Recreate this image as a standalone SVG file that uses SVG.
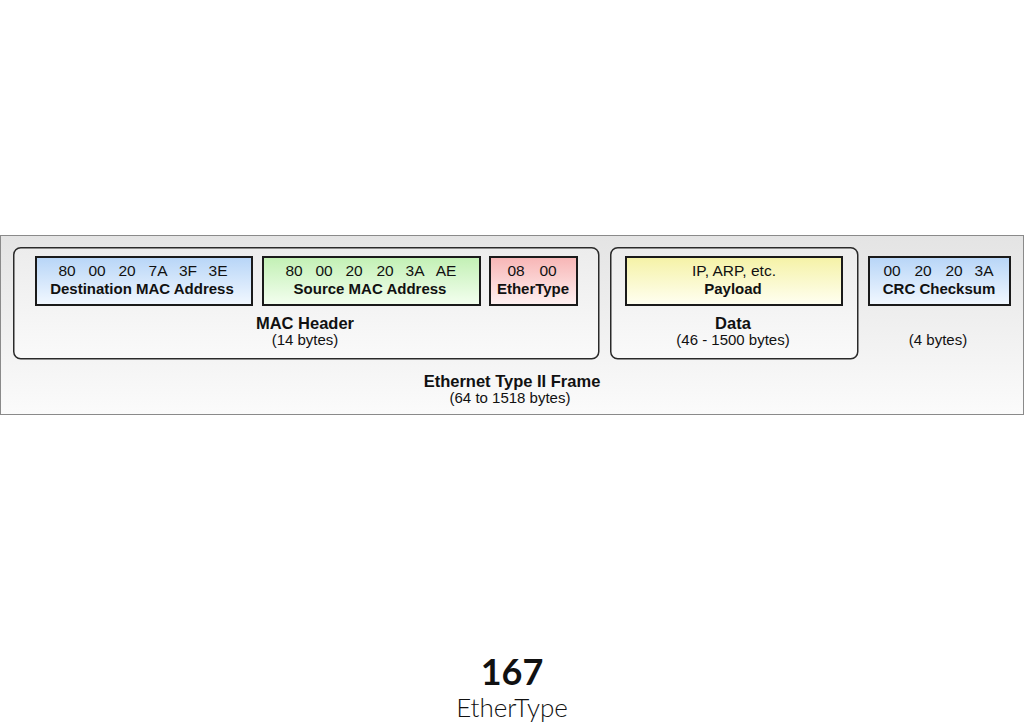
<svg xmlns="http://www.w3.org/2000/svg" width="1024" height="723" viewBox="0 0 1024 723">
<defs>
<linearGradient id="gFrame" x1="0" y1="0" x2="0" y2="1"><stop offset="0" stop-color="#e4e4e4"/><stop offset="1" stop-color="#fbfbfb"/></linearGradient>
<linearGradient id="gGroup" x1="0" y1="0" x2="0" y2="1"><stop offset="0" stop-color="#ececec"/><stop offset="1" stop-color="#fafafa"/></linearGradient>
<linearGradient id="gBlue" x1="0" y1="0" x2="0" y2="1"><stop offset="0" stop-color="#b7d5f7"/><stop offset="1" stop-color="#f2f8ff"/></linearGradient>
<linearGradient id="gGreen" x1="0" y1="0" x2="0" y2="1"><stop offset="0" stop-color="#c2f0b4"/><stop offset="1" stop-color="#f4fff0"/></linearGradient>
<linearGradient id="gRed" x1="0" y1="0" x2="0" y2="1"><stop offset="0" stop-color="#f7b5b5"/><stop offset="1" stop-color="#fff2f2"/></linearGradient>
<linearGradient id="gYellow" x1="0" y1="0" x2="0" y2="1"><stop offset="0" stop-color="#f5f2a6"/><stop offset="1" stop-color="#fffff2"/></linearGradient>
</defs>
<style>
text{font-family:"Liberation Sans",Arial,sans-serif;fill:#111;text-anchor:middle}
.hex{font-size:15.5px}
.lbl{font-size:15px;font-weight:bold}
.gt{font-size:16.5px;font-weight:bold}
.sub{font-size:15px}
.field{stroke:#1a1a1a;stroke-width:2}
.grp{fill:url(#gGroup);stroke:#2a2a2a;stroke-width:1.5}
.cap{font-family:Lato,"Noto Sans",sans-serif;fill:#111}
</style>
<rect width="1024" height="723" fill="#ffffff"/>
<g id="frame">
<rect x="0.5" y="235.5" width="1023" height="179" fill="url(#gFrame)" stroke="#8a8a8a" stroke-width="1"/>
<text class="gt" x="512" y="387">Ethernet Type II Frame</text>
<text class="sub" x="510" y="403">(64 to 1518 bytes)</text>
</g>
<g id="mac-header">
<rect class="grp" x="13.75" y="247.75" width="585" height="111" rx="7"/>
<text class="gt" x="305" y="329">MAC Header</text>
<text class="sub" x="305" y="345">(14 bytes)</text>
</g>
<g id="dest-mac">
<rect class="field" x="36" y="257" width="216" height="48" fill="url(#gBlue)"/>
<text class="hex" x="67" y="276">80</text><text class="hex" x="97" y="276">00</text><text class="hex" x="127" y="276">20</text><text class="hex" x="158" y="276">7A</text><text class="hex" x="188" y="276">3F</text><text class="hex" x="218" y="276">3E</text>
<text class="lbl" x="142" y="294">Destination MAC Address</text>
</g>
<g id="src-mac">
<rect class="field" x="263" y="257" width="217" height="48" fill="url(#gGreen)"/>
<text class="hex" x="294" y="276">80</text><text class="hex" x="324" y="276">00</text><text class="hex" x="354" y="276">20</text><text class="hex" x="385" y="276">20</text><text class="hex" x="415" y="276">3A</text><text class="hex" x="446" y="276">AE</text>
<text class="lbl" x="370" y="294">Source MAC Address</text>
</g>
<g id="ethertype">
<rect class="field" x="490" y="257" width="87" height="48" fill="url(#gRed)"/>
<text class="hex" x="516" y="276">08</text><text class="hex" x="548" y="276">00</text>
<text class="lbl" x="533" y="294">EtherType</text>
</g>
<g id="data">
<rect class="grp" x="610.75" y="247.75" width="247" height="111" rx="7"/>
<text class="gt" x="733" y="329">Data</text>
<text class="sub" x="733" y="345">(46 - 1500 bytes)</text>
</g>
<g id="payload">
<rect class="field" x="626" y="257" width="216" height="48" fill="url(#gYellow)"/>
<text class="hex" x="734" y="276">IP, ARP, etc.</text>
<text class="lbl" x="733" y="294">Payload</text>
</g>
<g id="crc">
<rect class="field" x="869" y="257" width="141" height="48" fill="url(#gBlue)"/>
<text class="hex" x="892" y="276">00</text><text class="hex" x="923" y="276">20</text><text class="hex" x="954" y="276">20</text><text class="hex" x="984" y="276">3A</text>
<text class="lbl" x="939" y="294">CRC Checksum</text>
<text class="sub" x="938" y="345">(4 bytes)</text>
</g>
<g id="connectors"></g>
<g id="caption">
<text class="cap" x="512" y="685" font-size="36" font-weight="bold">167</text>
<text class="cap" x="512" y="717" font-size="26" font-weight="300">EtherType</text>
</g>
</svg>
